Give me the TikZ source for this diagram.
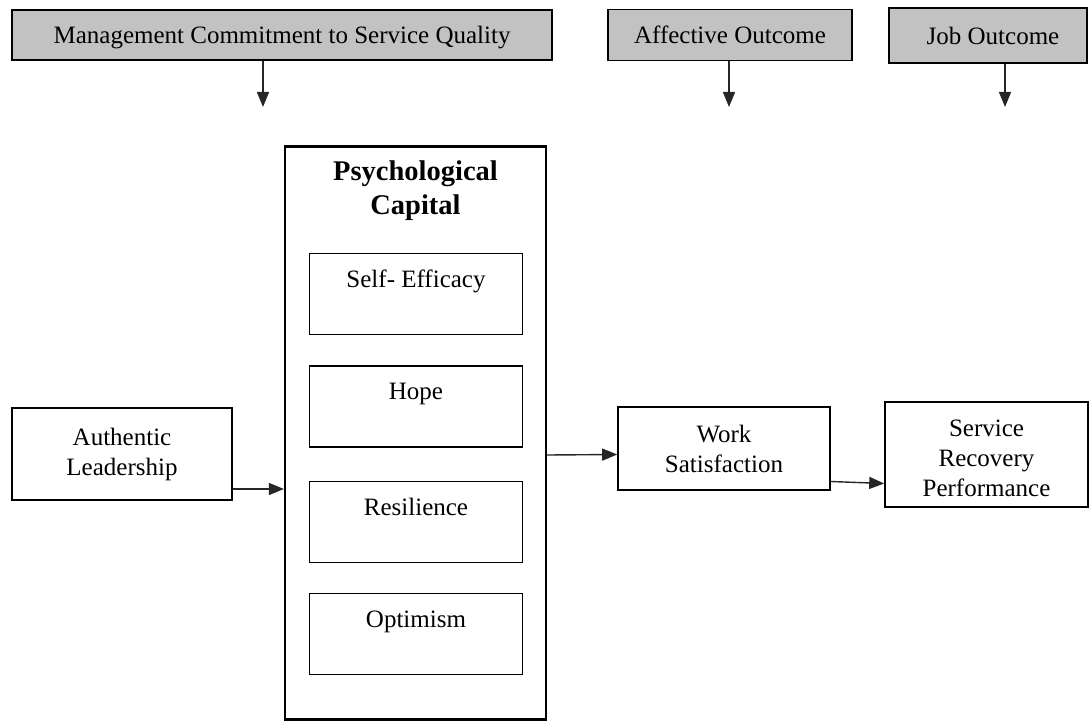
\documentclass[tikz,border=0pt]{standalone}
\usepackage{fontspec}
\setmainfont{Liberation Serif}
\usepackage{tikz}
\usetikzlibrary{arrows.meta}
\usetikzlibrary{positioning}

\definecolor{headgray}{RGB}{194,194,194}

\begin{document}
\begin{tikzpicture}[x=1pt, y=-1pt, font=\fontsize{25}{30}\selectfont,
        head/.style={rectangle, draw, line width=1.6pt, fill=headgray, inner sep=0pt},
        box/.style={rectangle, draw, line width=1.6pt, fill=white, align=center, inner sep=0pt},
        conn/.style={line width=1.4pt, draw=black!85, -{Triangle[length=15pt, width=12pt]}}]
        % Fix the page size
        \useasboundingbox (0,0) rectangle (1089,722);

        % Draw the three header boxes
        \node[head, minimum width=540pt, minimum height=50pt, text depth=0pt] (mcsq) at (282,35) {Management Commitment to Service Quality};
        \node[head, minimum width=244pt, minimum height=51pt, text depth=0pt] (aff) at (730,35) {Affective Outcome};
        \node[head, minimum width=198pt, minimum height=55pt, text depth=0pt] (job) at (988,35.5) {\hspace*{10pt}Job Outcome};

        % Arrow tips below the headers
        \coordinate (t1) at (263,107);
        \coordinate (t2) at (729,107);
        \coordinate (t3) at (1005,107);
        \draw[conn] (mcsq.south -| t1) -- (t1);
        \draw[conn] (aff.south -| t2) -- (t2);
        \draw[conn] (job.south -| t3) -- (t3);

        % Draw the big capital box with its title
        \node[box, line width=2.2pt, minimum width=261pt, minimum height=573pt,
              label={[anchor=north, yshift=-12pt, align=center, font=\fontsize{28.5}{34}\selectfont\bfseries]north:Psychological\\Capital}] (psycap) at (415.5,433) {};

        % Draw the four inner boxes
        \foreach \nm/\yy/\txt in {eff/294/Self- Efficacy, hope/406.5/Hope, res/522/Resilience, opt/634/Optimism}
        {
          \node[box, minimum width=213pt, minimum height=81pt, text depth=30pt] (\nm) at (416,\yy) {\txt};
        }

        % Draw the boxes on the left and right
        \node[box, minimum width=220pt, minimum height=92pt] (al) at (122,454) {Authentic\\Leadership};
        \node[box, minimum width=212pt, minimum height=83pt] (ws) at (724,448.5) {Work\\Satisfaction};
        \node[box, minimum width=203pt, minimum height=105pt] (srp) at (986.5,454.5) {\rule{0pt}{24pt}Service\\Recovery\\Performance};

        % Draw the arrows between the boxes
        \draw[conn] ([yshift=-35pt]al.east) -- ([yshift=-35pt]al.east -| psycap.west);
        \draw[conn] ([yshift=-22pt]psycap.east) -- ([yshift=-6pt]ws.west);
        \draw[conn] ([yshift=-33pt]ws.east) -- ([yshift=-29pt]srp.west);
      \end{tikzpicture}
\end{document}
